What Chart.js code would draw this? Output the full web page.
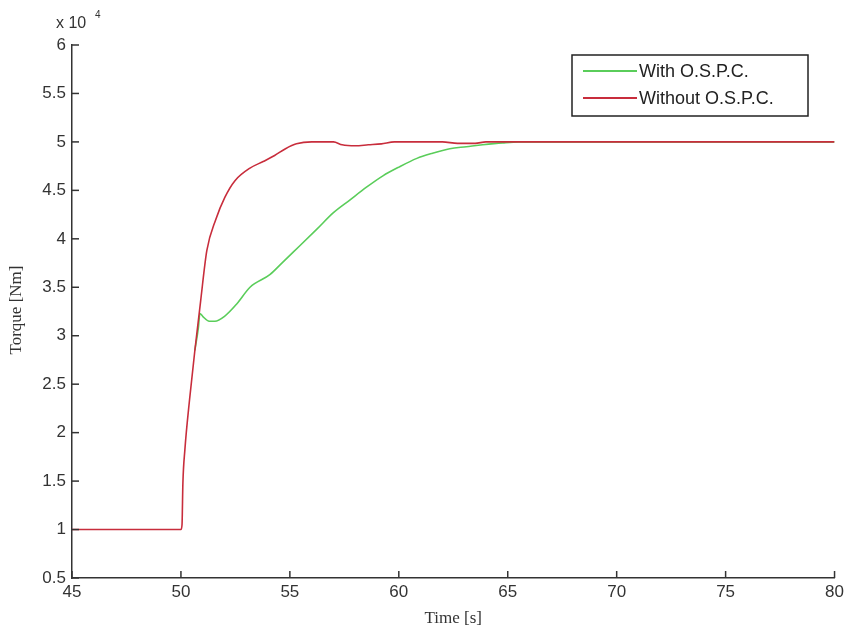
<!DOCTYPE html>
<html>
<head>
<meta charset="utf-8">
<script src="https://cdn.jsdelivr.net/npm/chart.js@4/dist/chart.umd.min.js"></script>
<style>
  html, body { margin: 0; padding: 0; background: #fff; }
  canvas { display: block; }
</style>
</head>
<body>
<canvas id="chart" width="848" height="634"></canvas>
<script>
// time axis ticks [s]
const timeTicks = [45, 50, 55, 60, 65, 70, 75, 80];
// torque axis ticks [Nm]
const torqueTicks = [5000, 10000, 15000, 20000, 25000, 30000, 35000, 40000, 45000, 50000, 55000, 60000];

const seriesNames = ["With O.S.P.C.", "Without O.S.P.C."];

// Without O.S.P.C. (red)
const timeWithout = [45, 50, 50.05, 50.09, 50.18, 50.4, 50.64, 50.9, 51.19, 51.6, 52.02, 52.48, 53.17, 53.8, 54.3, 54.8, 55.3, 56, 57, 57.4, 58, 58.6, 59.2, 59.8, 61, 62, 62.7, 63.5, 64, 65, 70, 80];
const torqueWithout = [10000, 10000, 10500, 14800, 18200, 23500, 28500, 33500, 38800, 42000, 44300, 46000, 47300, 48000, 48600, 49300, 49800, 50000, 50000, 49700, 49600, 49700, 49800, 50000, 50000, 50000, 49850, 49850, 50000, 50000, 50000, 50000];

// With O.S.P.C. (green) - identical to the red curve before it branches off
const timeWith = [50.64, 50.8, 50.87, 51.0, 51.3, 51.56, 52.0, 52.57, 53.17, 54.08, 54.68, 55.14, 56.24, 57.0, 57.75, 58.5, 59.27, 60.0, 60.83, 61.5, 62.34, 63.1, 63.85, 64.77, 65.5, 70, 80];
const torqueWith = [28500, 30800, 32300, 32000, 31500, 31500, 32000, 33300, 35000, 36300, 37600, 38600, 41000, 42700, 44000, 45300, 46500, 47400, 48300, 48800, 49300, 49500, 49700, 49900, 50000, 50000, 50000];

const toPoints = (xs, ys) => xs.map((x, i) => ({ x, y: ys[i] }));

const green = "rgb(90, 205, 90)";
const red = "rgb(200, 45, 60)";
const axisColor = "#333";

// ticks pointing into the plot, legend box, titles
const decorations = {
  id: "decorations",
  afterDraw(chart) {
    const { ctx, chartArea: area, scales } = chart;
    ctx.save();
    ctx.strokeStyle = axisColor;
    ctx.lineWidth = 1.5;
    timeTicks.forEach((t) => {
      const px = scales.x.getPixelForValue(t);
      ctx.beginPath();
      ctx.moveTo(px, area.bottom);
      ctx.lineTo(px, area.bottom - 7);
      ctx.stroke();
    });
    torqueTicks.forEach((t) => {
      const py = scales.y.getPixelForValue(t);
      ctx.beginPath();
      ctx.moveTo(area.left, py);
      ctx.lineTo(area.left + 7, py);
      ctx.stroke();
    });

    // legend
    const lx = 572, ly = 55, lw = 236, lh = 61;
    ctx.fillStyle = "#fff";
    ctx.fillRect(lx, ly, lw, lh);
    ctx.strokeStyle = "#222";
    ctx.lineWidth = 1.5;
    ctx.strokeRect(lx, ly, lw, lh);
    [[green, seriesNames[0], 71], [red, seriesNames[1], 98]].forEach(([c, name, y]) => {
      ctx.strokeStyle = c;
      ctx.lineWidth = 2;
      ctx.beginPath();
      ctx.moveTo(583, y);
      ctx.lineTo(637, y);
      ctx.stroke();
      ctx.fillStyle = "#222";
      ctx.font = "18px 'Liberation Sans', Arial, sans-serif";
      ctx.textAlign = "left";
      ctx.textBaseline = "middle";
      ctx.fillText(name, 639, y + 1);
    });

    // exponent label
    ctx.fillStyle = axisColor;
    ctx.font = "16px 'Liberation Sans', Arial, sans-serif";
    ctx.textAlign = "left";
    ctx.textBaseline = "alphabetic";
    ctx.fillText("x 10", 56, 28);
    ctx.font = "10px 'Liberation Sans', Arial, sans-serif";
    ctx.fillText("4", 95, 18);

    // axis titles
    ctx.font = "17px 'Liberation Serif', 'Times New Roman', serif";
    ctx.textAlign = "center";
    ctx.textBaseline = "middle";
    ctx.fillText("Time [s]", (area.left + area.right) / 2, 619);
    ctx.translate(17, 310);
    ctx.rotate(-Math.PI / 2);
    ctx.fillText("Torque [Nm]", 0, 0);
    ctx.restore();
  },
};

new Chart(document.getElementById("chart"), {
  type: "line",
  data: {
    datasets: [
      {
        label: seriesNames[0],
        data: toPoints(timeWith, torqueWith),
        borderColor: green,
        borderWidth: 1.6,
        pointRadius: 0,
        cubicInterpolationMode: "monotone",
        order: 1,
      },
      {
        label: seriesNames[1],
        data: toPoints(timeWithout, torqueWithout),
        borderColor: red,
        borderWidth: 1.6,
        pointRadius: 0,
        cubicInterpolationMode: "monotone",
        order: 0,
      },
    ],
  },
  options: {
    responsive: false,
    animation: false,
    layout: { padding: { top: 45, right: 13, left: 0, bottom: 0 } },
    plugins: {
      legend: { display: false },
      tooltip: { enabled: false },
    },
    scales: {
      x: {
        type: "linear",
        min: 45,
        max: 80,
        afterFit: (s) => { s.height = 56; },
        afterBuildTicks: (s) => { s.ticks = timeTicks.map((v) => ({ value: v })); },
        grid: { display: false, drawTicks: false },
        border: { display: true, color: axisColor, width: 1.5 },
        ticks: { color: axisColor, font: { size: 17, family: "'Liberation Sans', Arial, sans-serif" }, padding: 4, maxRotation: 0 },
      },
      y: {
        type: "linear",
        min: 5000,
        max: 60000,
        afterFit: (s) => { s.width = 72; },
        afterBuildTicks: (s) => { s.ticks = torqueTicks.map((v) => ({ value: v })); },
        grid: { display: false, drawTicks: false },
        border: { display: true, color: axisColor, width: 1.5 },
        ticks: {
          color: axisColor,
          font: { size: 17, family: "'Liberation Sans', Arial, sans-serif" },
          padding: 6,
          callback: (v) => String(v / 10000),
        },
      },
    },
  },
  plugins: [decorations],
});
</script>
</body>
</html>
